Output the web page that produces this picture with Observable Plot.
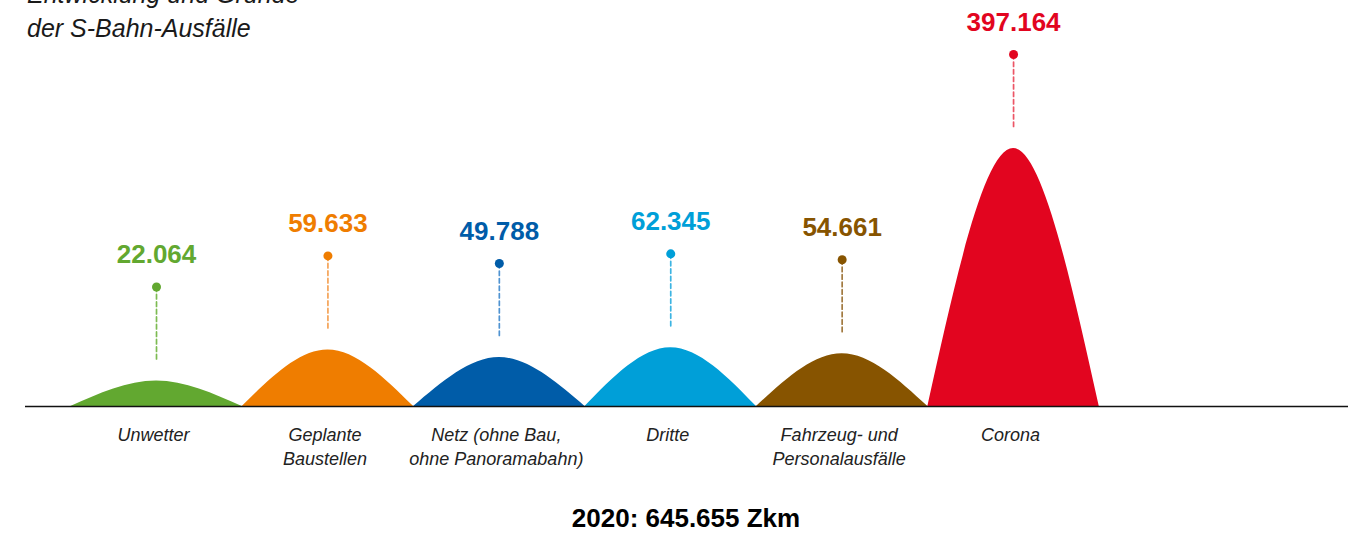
<!DOCTYPE html>
<html><head><meta charset="utf-8">
<script src="https://cdn.jsdelivr.net/npm/d3@7"></script>
<script src="https://cdn.jsdelivr.net/npm/@observablehq/plot@0.6"></script>
<style>
body{margin:0;background:#fff;font-family:"Liberation Sans",Arial,sans-serif;}
#wrap{position:relative;width:1363px;height:536px;overflow:hidden;}
#title{position:absolute;left:27px;top:-23px;font-style:italic;font-size:25px;line-height:34px;color:#1a1a1a;white-space:nowrap;}
#caption{position:absolute;left:0;width:1372px;top:503px;text-align:center;font-weight:bold;font-size:26px;line-height:30px;color:#000;}
#chart{position:absolute;left:0;top:0;}
</style></head>
<body>
<div id="wrap">
<div id="chart"></div>
<div id="title">Entwicklung und Gründe<br>der S-Bahn-Ausfälle</div>
<div id="caption">2020: 645.655 Zkm</div>
</div>
<script>
const categories = ["Unwetter", "Geplante\nBaustellen", "Netz (ohne Bau,\nohne Panoramabahn)", "Dritte", "Fahrzeug- und\nPersonalausfälle", "Corona"];
const values = [22064, 59633, 49788, 62345, 54661, 397164];
const fillColors = ["#62a830", "#ef7d00", "#005ca8", "#009fd8", "#875400", "#e2051f"];
const dashColors = ["#7dbb52", "#f5a458", "#4f93d1", "#3cb4e2", "#a27a40", "#ec5566"];

const de = d3.formatLocale({decimal: ",", thousands: ".", grouping: [3], currency: ["", " €"]});
const fmt = de.format(",d");

const data = categories.map((c, i) => ({i, cat: c, value: values[i], fill: fillColors[i], dash: dashColors[i]}));
const hump = data.flatMap(d => [
  {cat: d.cat, fill: d.fill, x: d.i - 0.5, y: 0},
  {cat: d.cat, fill: d.fill, x: d.i, y: d.value},
  {cat: d.cat, fill: d.fill, x: d.i + 0.5, y: 0}
]);

const lineShape = {draw(context, l) { context.moveTo(0, 0); context.lineTo(0, -l); }};

const chart = Plot.plot({
  width: 1363,
  height: 536,
  marginLeft: 25,
  marginRight: 15,
  marginTop: 0,
  marginBottom: 130,
  style: {fontFamily: "'Liberation Sans', Arial, sans-serif", background: "transparent"},
  x: {type: "linear", domain: [-0.7643, 6.954], axis: null},
  y: {type: "pow", exponent: 0.8, domain: [0, 700000], axis: null},
  color: {type: "identity"},
  marks: [
    Plot.areaY(hump, {x: "x", y1: 0, y2: "y", z: "cat", fill: "fill", curve: "natural"}),
    Plot.ruleY([0], {stroke: "#111", strokeWidth: 1.3}),
    Plot.vector(data, {x: "i", y: "value", length: 72, rotate: 0, anchor: "start", dy: -22, shape: lineShape, stroke: "dash", strokeWidth: 1.7, strokeDasharray: "4.5,3"}),
    Plot.dot(data, {x: "i", y: "value", dy: -94, r: 4.5, fill: "fill", stroke: "none"}),
    Plot.text(data, {x: "i", y: "value", dy: -126, text: d => fmt(d.value), fill: "fill", fontSize: 26, fontWeight: "bold", lineAnchor: "middle"}),
    Plot.text(data, {x: "i", y: () => 0, dx: -3, dy: 17, text: "cat", lineAnchor: "top", fontSize: 18, fontStyle: "italic", fill: "#222", lineHeight: 1.333})
  ]
});
document.getElementById("chart").appendChild(chart);
</script>
</body></html>
